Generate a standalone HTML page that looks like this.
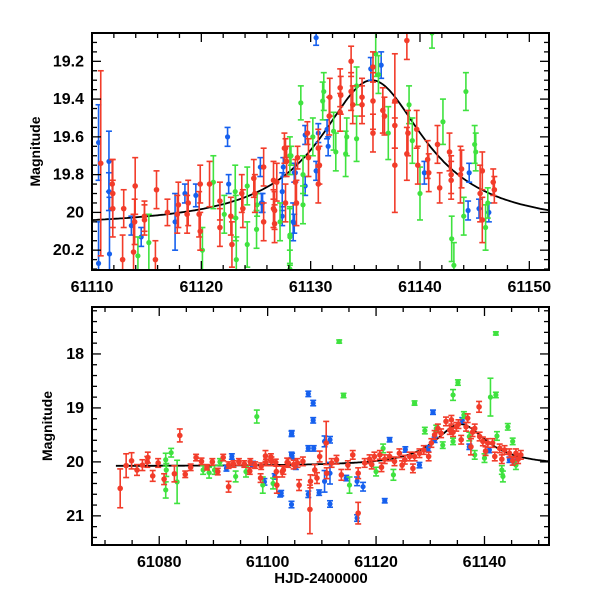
<!DOCTYPE html>
<html><head><meta charset="utf-8"><style>
html,body{margin:0;padding:0;background:#fff}
svg{display:block}
text{font-family:"Liberation Sans",sans-serif;font-weight:bold;fill:#000}
</style></head><body>
<svg id="chart" width="600" height="600" viewBox="0 0 600 600" xmlns="http://www.w3.org/2000/svg"></svg>
<script>
// ---- data: top panel (zoom) [t, mag, err]
const topRed = [[61110.8,19.74,0.49],[61111.85,19.85,0.13],[61111.9,19.98,0.15],[61111.9,19.9,0.18],[61112.9,19.98,0.1],[61112.8,20.25,0.13],[61113.8,20.21,0.2],[61113.95,19.86,0.15],[61113.9,20.05,0.12],[61114.8,20.02,0.08],[61114.8,20.04,0.08],[61115.8,20.25,0.1],[61115.9,19.88,0.1],[61116.9,20.0,0.07],[61117.8,20.01,0.1],[61117.9,19.96,0.12],[61118.8,19.95,0.12],[61118.7,20.01,0.1],[61119.8,20.01,0.12],[61119.9,19.85,0.1],[61119.9,20.1,0.1],[61120.75,19.85,0.12],[61121.7,19.94,0.1],[61121.7,20.08,0.1],[61122.7,20.02,0.1],[61122.8,20.17,0.12],[61123.7,19.9,0.1],[61123.8,19.98,0.1],[61124.8,19.82,0.1],[61124.9,19.9,0.1],[61125.7,19.76,0.1],[61125.7,20.05,0.1],[61126.6,19.83,0.1],[61126.6,19.98,0.1],[61127.6,19.66,0.08],[61127.7,19.95,0.1],[61128.6,19.84,0.12],
[61126.7,19.99,0.1],[61126.7,20.06,0.1],[61126.9,19.84,0.1],[61127.7,19.66,0.05],[61127.8,19.73,0.08],[61128.7,19.95,0.12],[61128.8,19.71,0.06],[61129.8,19.71,0.1],[61129.7,19.58,0.06],[61130.7,19.66,0.1],[61130.8,19.75,0.1],[61130.7,19.85,0.1],[61131.7,19.49,0.1],[61131.75,19.39,0.1],[61132.7,19.34,0.1],[61132.75,19.38,0.1],[61132.7,19.47,0.1],[61133.7,19.2,0.08],[61133.7,19.36,0.1],[61133.85,19.43,0.1],[61134.7,19.39,0.1],[61134.7,19.43,0.1],[61135.7,19.23,0.08],[61135.7,19.41,0.15],[61135.7,19.58,0.1],[61136.6,19.46,0.12],[61136.75,19.49,0.1],[61137.7,19.41,0.25],[61137.7,19.54,0.12],[61137.7,19.75,0.25],[61138.8,19.09,0.1],[61138.9,19.58,0.12],[61138.8,19.69,0.14],[61139.7,19.56,0.1],[61139.8,19.75,0.1],[61140.7,19.72,0.1],[61140.8,19.79,0.1],[61141.6,19.64,0.1],[61141.8,19.87,0.08],[61142.7,19.68,0.1],[61142.85,19.8,0.1],[61142.85,19.83,0.1],[61143.7,19.8,0.15],[61143.8,19.77,0.1],[61145.5,19.9,0.15],[61145.7,19.78,0.1],[61145.7,20.04,0.12],[61146.7,19.84,0.07],[61146.8,19.88,0.07]];
const topGreen = [[61114.2,20.23,0.1],[61115.2,20.16,0.15],[61120.1,20.2,0.12],[61121.1,19.84,0.14],[61122.1,20.01,0.1],[61123.1,19.89,0.14],[61123.15,20.03,0.12],[61123.2,20.25,0.12],[61124.2,19.86,0.1],[61124.2,20.17,0.12],[61125.1,19.96,0.06],[61125.05,20.09,0.1],[61127.2,20.05,0.1],[61128.1,19.7,0.1],[61128.1,20.12,0.15],[61128.1,20.3,0.1],
[61128.1,20.13,0.15],[61128.2,19.7,0.05],[61129.1,19.42,0.09],[61129.3,19.8,0.1],[61129.3,19.96,0.1],[61130.2,19.6,0.1],[61131.1,19.41,0.1],[61131.2,19.36,0.1],[61132.1,19.57,0.1],[61132.3,19.68,0.1],[61133.2,19.69,0.12],[61133.3,19.6,0.1],[61134.2,19.33,0.1],[61134.2,19.61,0.12],[61135.95,19.16,0.12],[61136.2,19.27,0.1],[61137.1,19.58,0.14],[61139.0,19.43,0.1],[61139.3,19.62,0.12],[61140.0,19.9,0.14],[61141.1,19.05,0.08],[61142.1,19.52,0.12],[61142.9,20.14,0.12],[61143.1,20.28,0.12],[61144.0,20.02,0.1],[61144.2,19.36,0.1],[61145.0,19.64,0.1],[61145.1,19.68,0.1],[61146.0,20.08,0.12],[61146.2,19.95,0.08]];
const topBlue = [[61110.6,19.63,0.2],[61110.6,20.27,0.22],[61111.55,19.73,0.16],[61111.55,19.89,0.1],[61111.6,20.22,0.3],[61113.6,20.07,0.05],[61114.5,20.13,0.05],[61117.6,20.05,0.15],[61118.5,19.9,0.05],[61119.5,19.91,0.06],[61122.4,19.6,0.05],[61122.5,19.85,0.05],[61125.4,19.76,0.05],[61125.5,19.95,0.05],[61125.6,19.95,0.05],[61127.4,19.89,0.1],[61127.4,20.02,0.05],[61128.4,20.05,0.1],[61128.5,19.79,0.05],
[61130.5,19.075,0.04],[61127.5,19.76,0.05],[61128.5,20.06,0.05],[61128.6,19.79,0.05],[61129.5,19.59,0.05],[61129.5,19.86,0.05],[61130.5,19.78,0.05],[61130.7,19.58,0.05],[61131.5,19.56,0.05],[61131.6,19.65,0.05],[61135.5,19.24,0.06],[61136.45,19.22,0.07],[61140.4,19.79,0.06],[61144.4,19.99,0.05],[61144.5,19.79,0.05],[61145.4,19.98,0.05],[61146.3,20.0,0.05]];
// ---- data: bottom panel (full)
const botRed = [[61072.8,20.49,0.36],[61073.9,20.07,0.22],[61074.9,19.98,0.15],[61075.9,20.15,0.1],[61076.9,20.06,0.1],[61077.8,20.0,0.1],[61077.9,19.92,0.1],[61078.8,20.26,0.1],[61079.8,20.02,0.08],[61080.9,20.32,0.1],[61082.8,20.22,0.15],[61083.8,19.51,0.12],[61084.8,20.23,0.06],[61085.8,20.1,0.06],[61086.8,19.92,0.06],[61087.8,19.99,0.06],[61088.8,20.1,0.05],[61089.8,20.0,0.06],[61090.8,20.18,0.06],[61091.8,19.92,0.06],[61092.8,20.46,0.1],[61092.8,20.06,0.06],[61093.7,20.04,0.06],[61094.7,20.0,0.06],[61095.7,20.04,0.06],[61096.7,20.17,0.06],[61096.8,20.0,0.06],[61097.7,20.06,0.06],[61098.7,20.3,0.08],[61098.8,20.08,0.06],[61099.6,19.89,0.1],[61099.7,20.01,0.06],[61100.6,19.91,0.06],[61101.5,20.01,0.06],[61101.7,20.43,0.15],[61102.7,20.18,0.1],[61103.6,20.01,0.08],[61105.5,20.02,0.08],
[61100.7,19.99,0.08],[61101.6,20.18,0.1],[61102.9,20.15,0.08],[61103.8,20.02,0.08],[61105.8,20.43,0.1],[61106.5,19.99,0.08],[61107.8,20.88,0.45],[61107.9,20.36,0.12],[61108.7,20.15,0.1],[61109.6,19.9,0.1],[61110.8,19.65,0.4],[61110.9,20.21,0.1],[61111.8,20.02,0.08],[61112.7,19.96,0.08],[61113.6,20.24,0.1],[61114.8,20.06,0.08],[61115.7,19.87,0.08],[61116.7,20.95,0.2],[61116.7,20.21,0.1],[61117.9,20.02,0.08],[61118.8,19.95,0.08],[61119.7,19.9,0.08],[61120.7,19.87,0.08],[61121.6,19.95,0.08],[61122.5,19.9,0.08],[61123.4,19.99,0.08],[61124.3,19.84,0.08],[61125.3,19.96,0.08],[61126.2,19.9,0.08],[61127.1,19.9,0.08],[61128.0,19.84,0.08],[61128.8,19.78,0.08],[61129.7,19.9,0.08],[61130.2,19.65,0.08],[61131.4,19.38,0.08],[61132.0,19.47,0.08],[61132.9,19.25,0.08],[61133.6,19.41,0.08],[61133.9,19.22,0.08],[61134.8,19.35,0.08],[61135.7,19.59,0.08],[61136.6,19.35,0.08],[61136.9,19.19,0.08],[61137.5,19.72,0.15],[61138.2,19.38,0.08],[61139.0,18.98,0.1],[61139.1,19.53,0.08],[61139.7,19.62,0.08],[61140.6,19.65,0.08],[61141.5,19.65,0.08],[61142.8,19.75,0.08],[61143.7,19.78,0.08],[61144.6,19.84,0.08],[61145.8,19.84,0.08],[61146.7,19.87,0.08],
[61119.2,20.05,0.08],[61121.0,20.1,0.08],[61124.8,20.06,0.08],[61126.8,20.12,0.08],[61130.8,19.5,0.08],[61134.2,19.45,0.08],[61135.2,19.3,0.08],[61137.8,19.45,0.08],[61140.2,19.8,0.08],[61141.9,19.9,0.08],[61143.2,19.95,0.08],[61145.2,19.98,0.08],[61146.2,19.95,0.08],[61104.8,20.05,0.08],[61109.1,20.3,0.1]];
const botGreen = [[61081.2,19.96,0.12],[61081.2,20.52,0.15],[61081.3,20.15,0.12],[61082.2,19.83,0.08],[61083.3,20.37,0.4],[61088.1,20.15,0.08],[61089.2,20.2,0.1],[61090.2,20.15,0.08],[61091.2,20.0,0.06],[61094.1,20.27,0.1],[61096.0,20.18,0.1],[61098.0,19.16,0.12],[61099.1,20.43,0.15],[61101.0,20.4,0.1],
[61113.2,17.77,0.03],[61114.0,18.77,0.04],[61115.1,20.43,0.15],[61120.0,20.18,0.08],[61121.3,19.75,0.08],[61123.2,20.24,0.1],[61127.1,18.91,0.04],[61129.0,19.42,0.06],[61131.1,19.38,0.06],[61132.3,19.69,0.06],[61134.2,18.76,0.1],[61134.2,19.62,0.06],[61135.1,18.53,0.05],[61136.2,19.13,0.06],[61137.2,19.53,0.08],[61138.2,19.87,0.08],[61140.0,19.93,0.08],[61141.1,18.8,0.35],[61142.1,18.76,0.05],[61142.1,17.62,0.03],[61142.3,19.52,0.08],[61143.2,20.15,0.08],[61143.4,20.27,0.1],[61144.3,19.35,0.06],[61145.2,19.62,0.06],[61145.8,20.06,0.08]];
const botBlue = [[61092.4,20.12,0.05],[61093.4,19.9,0.05],[61097.3,20.04,0.05],[61099.4,20.37,0.06],[61101.3,20.27,0.05],[61102.3,20.6,0.05],[61104.4,19.48,0.05],[61104.4,20.79,0.06],[61104.4,19.87,0.05],[61105.2,20.09,0.05],
[61102.5,20.58,0.05],[61104.45,19.47,0.05],[61104.5,19.89,0.05],[61107.5,18.74,0.05],[61107.5,19.75,0.05],[61107.5,20.6,0.06],[61108.4,18.91,0.05],[61108.4,19.23,0.05],[61108.5,19.75,0.05],[61109.5,20.57,0.05],[61110.5,19.62,0.1],[61110.5,20.36,0.2],[61111.5,19.59,0.06],[61111.5,20.21,0.2],[61111.5,20.78,0.06],[61114.5,20.3,0.05],[61116.5,20.36,0.08],[61116.5,21.04,0.06],[61117.6,20.46,0.08],[61121.6,20.72,0.04],[61122.5,19.59,0.04],[61125.4,19.77,0.05],[61128.0,20.06,0.05],[61129.6,19.75,0.05],[61130.5,19.08,0.04],[61130.8,19.59,0.05],[61135.9,19.23,0.05],[61137.2,19.72,0.05],[61140.9,19.78,0.05],[61144.6,19.96,0.05],[61145.5,20.0,0.05]];
// model parameters
const modelBase = [20.08];
const modelPeak = [61135.6, 0.78, 5.9];

const RED='#f23c2a', GREEN='#3fe23f', BLUE='#1660ee';
const svg=document.getElementById('chart');
const NS='http://www.w3.org/2000/svg';
function mk(tag,attrs,parent){const e=document.createElementNS(NS,tag);for(const k in attrs)e.setAttribute(k,attrs[k]);(parent||svg).appendChild(e);return e;}
function model(t){const d=(t-modelPeak[0])/modelPeak[2];return modelBase[0]-modelPeak[1]/(1+d*d);}

function panel(cfg){
  const g=mk('g',{});
  
  
  const X=t=>cfg.x0+(t-cfg.tmin)/(cfg.tmax-cfg.tmin)*(cfg.x1-cfg.x0);
  const Y=m=>cfg.y0+(m-cfg.mmin)/(cfg.mmax-cfg.mmin)*(cfg.y1-cfg.y0);
  const cp='clip-'+cfg.name;
  const defs=mk('defs',{},g);const c=mk('clipPath',{id:cp},defs);
  mk('rect',{x:cfg.x0,y:cfg.y0,width:cfg.x1-cfg.x0,height:cfg.y1-cfg.y0},c);
  const dg=mk('g',{'clip-path':'url(#'+cp+')'},g);
  let d='';for(let t=cfg.cstart;t<=cfg.tmax;t+=0.2){d+=(d?'L':'M')+X(t).toFixed(1)+','+Y(model(t)).toFixed(1);}
  const curve=mk('path',{d:d,fill:'none',stroke:'#000','stroke-width':1.8},dg);
  
  
  const series=[[cfg.blue,BLUE,'blue'],[cfg.green,GREEN,'green'],[cfg.red,RED,'red']];
  series.forEach(([arr,col,nm])=>{
    const sg=mk('g',{stroke:col,fill:col,'stroke-width':1.6},dg);
    
    
    arr.forEach(p=>{
      const x=X(p[0]),ya=Y(p[1]-p[2]),yb=Y(p[1]+p[2]),y=Y(p[1]);
      const pg=mk('g',{},sg);
      
      
      mk('line',{x1:x,x2:x,y1:ya,y2:yb},pg);
      mk('line',{x1:x-3,x2:x+3,y1:ya,y2:ya},pg);
      mk('line',{x1:x-3,x2:x+3,y1:yb,y2:yb},pg);
      mk('circle',{cx:x,cy:y,r:(nm==='red'?2.8:2.6),stroke:'none'},pg);
    });
  });
  const fr=mk('rect',{x:cfg.x0,y:cfg.y0,width:cfg.x1-cfg.x0,height:cfg.y1-cfg.y0,fill:'none',stroke:'#000','stroke-width':2},g);
  
  
  const tk=mk('g',{stroke:'#000','stroke-width':1.3},g);
  
  
  for(let t=Math.ceil(cfg.tmin/cfg.xmin)*cfg.xmin;t<=cfg.tmax;t+=cfg.xmin){
    const x=X(t);const maj=Math.abs(t/cfg.xmaj-Math.round(t/cfg.xmaj))<1e-6;const L=maj?9:5;
    mk('line',{x1:x,x2:x,y1:cfg.y1,y2:cfg.y1-L},tk);mk('line',{x1:x,x2:x,y1:cfg.y0,y2:cfg.y0+L},tk);
    if(maj){const tx=mk('text',{x:x,y:cfg.y1+22,'text-anchor':'middle','font-size':16},g);tx.textContent=t;
      
      }
  }
  for(let i=Math.ceil(cfg.mmin/cfg.ymin-1e-6);i*cfg.ymin<=cfg.mmax+1e-9;i++){
    const m=i*cfg.ymin;const y=Y(m);const r=m/cfg.ymaj;const maj=Math.abs(r-Math.round(r))<1e-6;const L=maj?9:5;
    mk('line',{x1:cfg.x0,x2:cfg.x0+L,y1:y,y2:y},tk);mk('line',{x1:cfg.x1,x2:cfg.x1-L,y1:y,y2:y},tk);
    if(maj){const tx=mk('text',{x:cfg.x0-8,y:y+5,'text-anchor':'end','font-size':16},g);tx.textContent=+m.toFixed(1);
      
      }
  }
  const yl=mk('text',{x:0,y:0,'text-anchor':'middle','font-size':14,transform:`translate(${cfg.ylx},${(cfg.y0+cfg.y1)/2}) rotate(-90)`},g);
  yl.textContent='Magnitude';
  
  
}
panel({name:'top-panel',x0:92,x1:549,y0:33,y1:270,tmin:61110,tmax:61151.8,mmin:19.05,mmax:20.305,cstart:61100,
  red:topRed,green:topGreen,blue:topBlue,xmaj:10,xmin:2,ymaj:0.2,ymin:0.05,ylx:40});
panel({name:'bottom-panel',x0:92,x1:549,y0:307,y1:545,tmin:61067.6,tmax:61151.9,mmin:17.13,mmax:21.54,cstart:61072,
  red:botRed,green:botGreen,blue:botBlue,xmaj:20,xmin:5,ymaj:1,ymin:0.2,ylx:52});
const xl=mk('text',{x:321,y:583,'text-anchor':'middle','font-size':15});
xl.textContent='HJD-2400000';


</script>
</body></html>
